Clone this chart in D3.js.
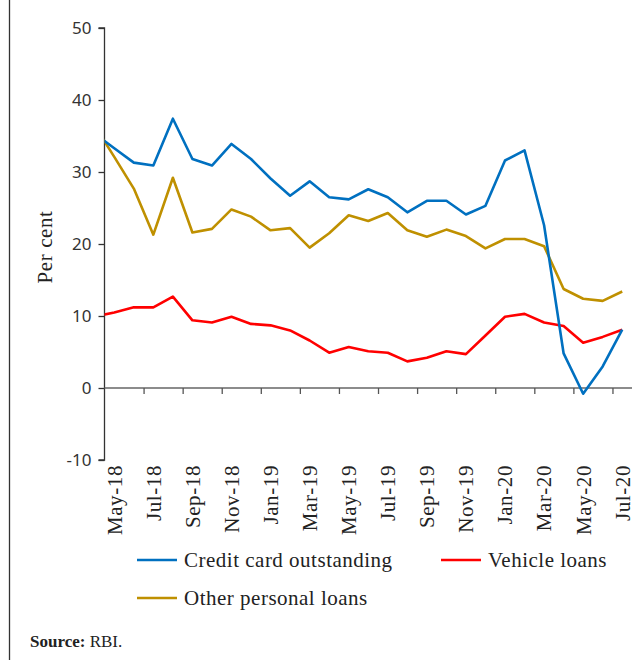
<!DOCTYPE html>
<html><head><meta charset="utf-8">
<script src="https://cdn.jsdelivr.net/npm/d3@7"></script>
<style>
html,body{margin:0;padding:0;background:#fff;}
svg{display:block;}
</style>
</head><body>
<svg id="chart" width="644" height="660"></svg>
<script>
// ---- Data ----
const months = ["Apr-18","May-18","Jun-18","Jul-18","Aug-18","Sep-18","Oct-18","Nov-18","Dec-18",
  "Jan-19","Feb-19","Mar-19","Apr-19","May-19","Jun-19","Jul-19","Aug-19","Sep-19","Oct-19","Nov-19","Dec-19",
  "Jan-20","Feb-20","Mar-20","Apr-20","May-20","Jun-20","Jul-20"];
const tickLabels = ["May-18","Jul-18","Sep-18","Nov-18","Jan-19","Mar-19","May-19","Jul-19","Sep-19","Nov-19","Jan-20","Mar-20","May-20","Jul-20"];
const yTicks = [-10,0,10,20,30,40,50];
const creditCard = [35.3,33.3,31.3,30.9,37.4,31.8,30.9,33.9,31.8,29.1,26.7,28.7,26.5,26.2,27.6,26.5,24.4,26.0,26.0,24.1,25.3,31.6,33.0,22.6,4.8,-0.8,3.0,8.1];
const vehicleLoans = [9.9,10.5,11.2,11.2,12.7,9.4,9.1,9.9,8.9,8.7,8.0,6.6,4.9,5.7,5.1,4.9,3.7,4.2,5.1,4.7,7.3,9.9,10.3,9.1,8.6,6.3,7.1,8.1];
const otherPersonal = [36.4,32.1,27.7,21.3,29.2,21.6,22.1,24.8,23.8,21.9,22.2,19.5,21.5,24.0,23.2,24.3,21.9,21.0,22.0,21.1,19.4,20.7,20.7,19.7,13.75,12.4,12.1,13.4];
const seriesNames = ["Credit card outstanding","Vehicle loans","Other personal loans"];
const seriesColors = ["#0070C0","#FF0000","#BF9000"];

const series = [
  {name: seriesNames[0], color: seriesColors[0], values: creditCard},
  {name: seriesNames[1], color: seriesColors[1], values: vehicleLoans},
  {name: seriesNames[2], color: seriesColors[2], values: otherPersonal}
];

const svg = d3.select("#chart");
const serif = "'Liberation Serif','Times New Roman',serif";
const sans = "'Noto Sans','DejaVu Sans',sans-serif";

// left frame line
svg.append("line").attr("x1",9.5).attr("x2",9.5).attr("y1",0).attr("y2",660)
  .attr("stroke","#333").attr("stroke-width",1.3);

const pL = 104.5, pR = 632, pT = 28, pB = 460;
const x = d3.scaleLinear().domain([0.5, months.length - 0.5]).range([pL, pR]);
const y = d3.scaleLinear().domain([-10, 50]).range([pB, pT]);

// clip
svg.append("defs").append("clipPath").attr("id","plot")
  .append("rect").attr("x", pL).attr("y", pT - 10).attr("width", pR - pL).attr("height", pB - pT + 20);

// y axis
const yAxis = d3.axisLeft(y).tickValues(yTicks).tickSize(6).tickPadding(7).tickFormat(d => String(d));
const gy = svg.append("g").attr("transform", `translate(${pL},0)`).call(yAxis);
gy.select(".domain").attr("stroke","#333").attr("stroke-width",1.3).attr("d", `M-6,${y(50)}H0V${y(-10)}H-6`);
gy.selectAll(".tick line").attr("stroke","#333").attr("stroke-width",1.3);
gy.selectAll(".tick text").attr("font-family", sans).attr("font-size", 17).attr("fill","#333");

// x axis at zero
const boundaries = d3.range(2.5, months.length - 1, 2);
const xAxis = d3.axisBottom(x).tickValues(boundaries).tickSize(6).tickFormat("");
const gx = svg.append("g").attr("transform", `translate(0,${y(0)})`).call(xAxis);
gx.select(".domain").attr("stroke","#666").attr("stroke-width",1.6).attr("d", `M${pL},0H${pR}`);
gx.selectAll(".tick line").attr("stroke","#555").attr("stroke-width",1.3);

// x labels
svg.append("g").selectAll("text").data(tickLabels).join("text")
  .attr("transform", d => `translate(${x(months.indexOf(d))},${pB + 5}) rotate(-90)`)
  .attr("text-anchor","end").attr("dy","0.35em")
  .attr("font-family", serif).attr("font-size", 21).attr("letter-spacing", 0.6).attr("fill","#222")
  .text(d => d);

// y label
svg.append("text").attr("transform", `translate(52,247) rotate(-90)`)
  .attr("text-anchor","middle").attr("font-family", serif).attr("font-size", 21).attr("letter-spacing", 0.6).attr("fill","#222")
  .text("Per cent");

// lines
const line = d3.line().x((d,i) => x(i)).y(d => y(d));
svg.append("g").attr("clip-path","url(#plot)").selectAll("path").data([series[2], series[1], series[0]]).join("path")
  .attr("d", d => line(d.values)).attr("fill","none").attr("stroke", d => d.color)
  .attr("stroke-width", 2.6).attr("stroke-linejoin","round");

// legend
const legendPos = [[137, 560], [441, 560], [137, 598]];
const lg = svg.append("g").selectAll("g").data(series).join("g")
  .attr("transform", (d,i) => `translate(${legendPos[i][0]},${legendPos[i][1]})`);
lg.append("line").attr("x1",0).attr("x2",40).attr("y1",0).attr("y2",0)
  .attr("stroke", d => d.color).attr("stroke-width", 2.6);
lg.append("text").attr("x", 47).attr("dy","0.33em").attr("font-family", serif).attr("font-size", 21)
  .attr("letter-spacing", 0.5).attr("fill","#222").text(d => d.name);

// source
const src = svg.append("text").attr("x", 30).attr("y", 647).attr("font-family", serif).attr("font-size", 17).attr("fill","#222");
src.append("tspan").attr("font-weight","bold").text("Source:");
src.append("tspan").text(" RBI.");
</script>
</body></html>
